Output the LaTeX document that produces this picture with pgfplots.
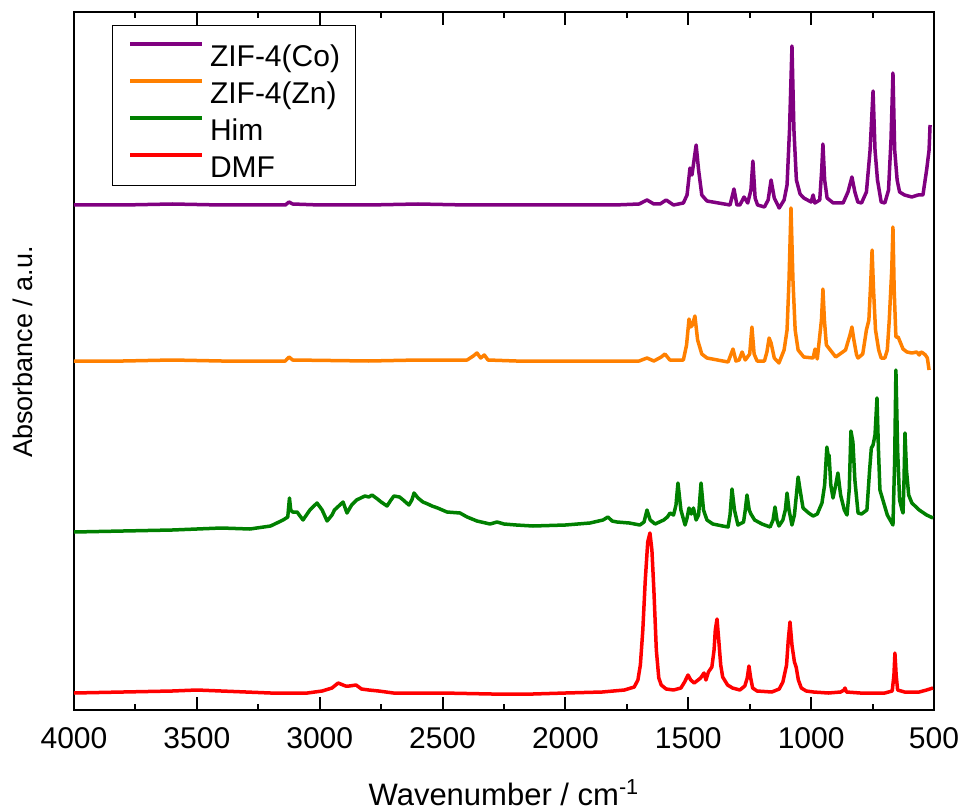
\documentclass[border=0pt]{standalone}
\usepackage{pgfplots}
\pgfplotsset{compat=1.18}
\usepackage{fontspec}
\setmainfont{Liberation Sans}
\definecolor{cCo}{RGB}{128,0,128}
\definecolor{cZn}{RGB}{255,128,0}
\definecolor{cHim}{RGB}{0,128,0}
\definecolor{cDMF}{RGB}{255,0,0}
\begin{document}
\begin{tikzpicture}
\begin{axis}[
  scale only axis, width=430pt, height=349pt,
  x dir=reverse, xmin=500, xmax=4000, ymin=0, ymax=698,
  xtick={500,1000,...,4000}, minor x tick num=1,
  ytick=\empty, minor ytick={16,56.5,...,664},
  xtick pos=both, ytick pos=both, xticklabel pos=bottom,
  tick align=inside, major tick length=6.5pt, minor tick length=3pt,
  axis line style={line width=1pt},
  every tick/.style={black, line width=1pt},
  /pgf/number format/assume math mode=true,
  /pgf/number format/set thousands separator={},
  ticklabel style={font=\fontsize{15}{18}\selectfont},
  xticklabel style={yshift=-5pt},
  xlabel={Wavenumber / cm\textsuperscript{-1}},
  xlabel style={font=\fontsize{15.5}{18}\selectfont, at={(axis description cs:0.5,0)}, anchor=base, yshift=-47.5pt},
  ylabel={Absorbance / a.u.},
  ylabel style={font=\fontsize{13.5}{16}\selectfont, at={(axis description cs:-0.0488,0.513)}, anchor=base},
  legend style={at={(axis description cs:0.0442,0.9814)}, anchor=north west,
    draw=black, line width=0.5pt, inner xsep=8pt, inner ysep=3pt,
    font=\fontsize{15}{18}\selectfont,
    nodes={inner xsep=0pt, inner ysep=0pt, text height=17.3pt, text depth=1.2pt},
    row sep=0pt, column sep=3pt},
  legend cell align=left,
  legend image code/.code={\draw[#1, line width=1.75pt] (0pt,0.3em) -- (36pt,0.3em);},
  every axis plot/.append style={line width=1.75pt, line join=round},
]
\addplot[cCo] table {
4000 505
3800 505
3600 506
3400 505
3200 505
3140 505
3125 508
3110 506
3000 505
2800 505
2600 506
2400 505
2200 505
2000 505
1800 505
1700 506
1668 510
1640 506
1615 506
1590 510
1560 505
1520 507
1505 515
1493 542
1485 535
1468 565
1458 540
1445 515
1424 509
1330 505
1314 521
1302 505
1290 505
1273 513
1258 507
1245 520
1237 549
1228 512
1218 505
1190 503
1175 510
1163 530
1150 512
1130 502
1110 510
1098 525
1088 580
1078 664
1070 580
1060 530
1045 516
1030 512
1000 508
992 515
985 507
965 510
957 540
952 566
945 530
935 512
910 507
870 507
850 518
834 533
822 518
810 508
795 507
775 518
760 560
748 619
740 560
730 530
715 508
700 507
685 520
675 570
667 637
660 560
650 530
640 518
620 515
590 513
565 515
545 515
530 540
520 560
516 585
};
\addlegendentry{ZIF-4(Co)}
\addplot[cZn] table {
4000 349
3800 349
3600 350
3400 349
3200 349
3140 349
3125 353
3110 350
2800 349
2600 350
2400 350
2375 354
2360 357
2345 352
2330 355
2315 350
2200 349
2000 349
1800 349
1700 349
1668 352
1640 349
1610 353
1595 356
1575 350
1520 350
1507 365
1497 391
1490 383
1483 385
1473 394
1462 370
1445 356
1424 352
1338 348
1318 361
1306 349
1293 350
1281 358
1268 350
1250 356
1241 383
1232 356
1220 349
1190 349
1180 358
1171 372
1163 367
1150 352
1131 347
1110 360
1098 380
1090 430
1082 502
1074 430
1065 380
1053 360
1030 353
992 352
984 361
975 351
958 390
952 421
946 390
938 365
900 353
860 360
842 375
834 383
826 370
815 355
809 352
790 356
775 380
765 390
757 430
752 460
746 420
738 380
725 360
715 352
700 352
690 360
682 390
672 440
667 483
662 420
655 373
646 373
626 361
610 358
590 357
570 358
560 355
553 358
545 357
535 355
527 352
520 340
};
\addlegendentry{ZIF-4(Zn)}
\addplot[cHim] table {
4000 178
3800 179
3600 180
3400 182
3284 181
3200 184
3149 190
3130 193
3123 212
3118 200
3110 198
3092 198
3068 190
3040 200
3011 207
2990 200
2970 189
2950 195
2940 200
2905 208
2889 197
2870 205
2850 210
2816 214
2800 213
2787 215
2765 211
2750 208
2726 204
2710 210
2698 214
2675 213
2660 210
2637 205
2625 210
2616 217
2600 212
2580 208
2560 206
2543 204
2520 202
2482 198
2429 197
2400 193
2360 189
2307 186
2278 188
2250 186
2200 185
2132 184
2000 185
1900 187
1847 190
1827 193
1810 189
1790 188
1740 187
1697 185
1680 188
1668 200
1655 190
1635 186
1600 190
1585 193
1574 197
1560 195
1550 205
1542 227
1530 200
1513 185
1505 192
1497 202
1488 196
1479 202
1468 190
1458 195
1448 227
1438 200
1424 190
1400 186
1360 184
1338 183
1330 195
1322 221
1312 200
1298 185
1275 188
1268 200
1261 215
1252 200
1245 196
1230 190
1200 186
1167 183
1155 190
1147 203
1139 190
1131 184
1115 190
1105 200
1098 217
1090 200
1078 185
1068 195
1060 215
1053 233
1045 220
1033 202
1010 197
992 194
975 196
956 207
945 225
936 263
931 255
927 255
920 225
911 212
900 225
891 237
880 215
865 200
854 195
845 220
838 279
830 268
822 230
809 197
795 196
773 200
762 240
755 262
748 265
740 275
732 312
726 260
720 220
708 210
690 195
667 185
660 250
655 340
648 260
640 210
630 200
626 197
622 230
618 277
612 240
603 215
590 207
560 200
530 195
504 192
};
\addlegendentry{Him}
\addplot[cDMF] table {
4000 17
3800 18
3600 19
3500 20
3400 19
3200 17
3050 17
2990 19
2950 22
2925 27
2895 24
2880 24
2852 25
2830 21
2800 20
2760 19
2700 17
2500 17
2300 16
2132 16
2000 17
1850 18
1760 20
1720 23
1705 30
1695 45
1685 80
1675 130
1665 168
1656 177
1648 160
1640 120
1630 60
1620 32
1610 25
1590 21
1560 20
1530 22
1515 28
1501 35
1490 30
1476 27
1460 30
1450 32
1436 37
1428 30
1418 38
1404 43
1395 60
1390 80
1383 91
1376 70
1368 45
1360 33
1340 25
1320 22
1290 20
1270 24
1260 32
1253 44
1246 32
1238 22
1220 19
1160 18
1130 21
1115 28
1100 45
1093 70
1086 88
1078 65
1068 48
1061 43
1052 30
1040 22
1020 19
990 18
930 17
880 18
866 20
862 22
856 18
800 17
700 17
670 19
663 35
659 57
654 35
648 20
620 18
560 18
530 20
504 22
};
\addlegendentry{DMF}
\coordinate (bbtl) at (axis description cs:-0.08605,1.01719);
\coordinate (bbbr) at (axis description cs:1.03256,-0.14183);
\end{axis}
\pgfresetboundingbox
\path[use as bounding box] (bbtl) rectangle (bbbr);
\end{tikzpicture}
\end{document}
